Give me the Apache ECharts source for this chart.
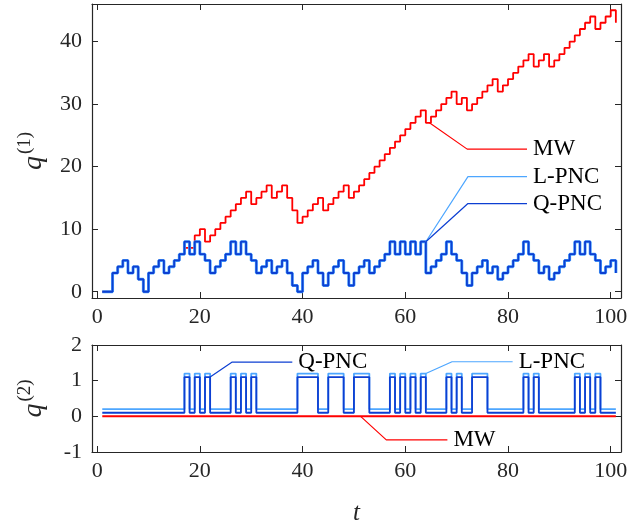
<!DOCTYPE html>
<html>
<head>
<meta charset="utf-8">
<script src="https://cdn.jsdelivr.net/npm/echarts@6/dist/echarts.min.js"></script>
<style>
  html, body { margin: 0; padding: 0; background: #ffffff; }
  #chart { width: 644px; height: 527px; }
</style>
</head>
<body>
<div id="chart"></div>
<script>
// time steps 1..101
const tSteps = Array.from({ length: 101 }, (_, i) => i + 1);

// q^(1): MW (red)
const mwQ1 = [
  0, 0, 3, 4, 5, 3, 4, 2, 0, 3,
  4, 5, 3, 4, 5, 6, 7, 7, 9, 10,
  8, 9, 10, 11, 12, 13, 14, 15, 16, 14,
  15, 16, 17, 15, 16, 17, 15, 13, 11, 12,
  13, 14, 15, 13, 14, 15, 16, 17, 15, 16,
  17, 18, 19, 20, 21, 22, 23, 24, 25, 26,
  27, 28, 29, 27, 28, 29, 30, 31, 32, 30,
  31, 29, 30, 31, 32, 33, 34, 32, 33, 34,
  35, 36, 37, 38, 36, 37, 38, 36, 37, 38,
  39, 40, 41, 42, 43, 44, 42, 43, 44, 45,
  43
];

// q^(1): L-PNC and Q-PNC (they overlap in the picture)
const lpncQ1 = [
  0, 0, 3, 4, 5, 3, 4, 2, 0, 3,
  4, 5, 3, 4, 5, 6, 8, 6, 8, 6,
  5, 3, 4, 5, 6, 8, 6, 8, 6, 5,
  3, 4, 5, 3, 4, 5, 3, 1, 0, 3,
  4, 5, 3, 1, 3, 4, 5, 3, 1, 3,
  4, 5, 3, 4, 5, 6, 8, 6, 8, 6,
  8, 6, 8, 3, 4, 5, 6, 8, 6, 5,
  3, 1, 3, 4, 5, 3, 4, 2, 3, 4,
  5, 6, 8, 6, 5, 3, 4, 2, 3, 4,
  5, 6, 8, 6, 8, 6, 5, 3, 4, 5,
  3
];
const qpncQ1 = lpncQ1.slice();

// q^(2): plotted levels as read (L-PNC sits at 0.2/1.2, Q-PNC at 0.1/1.1)
const lpncQ2 = [
  0.2, 0.2, 0.2, 0.2, 0.2, 0.2, 0.2, 0.2, 0.2, 0.2,
  0.2, 0.2, 0.2, 0.2, 0.2, 0.2, 1.2, 0.2, 1.2, 0.2,
  1.2, 0.2, 0.2, 0.2, 0.2, 1.2, 0.2, 1.2, 0.2, 1.2,
  0.2, 0.2, 0.2, 0.2, 0.2, 0.2, 0.2, 0.2, 1.2, 1.2,
  1.2, 1.2, 0.2, 0.2, 1.2, 1.2, 1.2, 0.2, 0.2, 1.2,
  1.2, 1.2, 0.2, 0.2, 0.2, 0.2, 1.2, 0.2, 1.2, 0.2,
  1.2, 0.2, 1.2, 0.2, 0.2, 0.2, 0.2, 1.2, 0.2, 1.2,
  0.2, 0.2, 1.2, 1.2, 1.2, 0.2, 0.2, 0.2, 0.2, 0.2,
  0.2, 0.2, 1.2, 0.2, 1.2, 0.2, 0.2, 0.2, 0.2, 0.2,
  0.2, 0.2, 1.2, 0.2, 1.2, 0.2, 1.2, 0.2, 0.2, 0.2,
  0.2
];
const qpncQ2 = [
  0.1, 0.1, 0.1, 0.1, 0.1, 0.1, 0.1, 0.1, 0.1, 0.1,
  0.1, 0.1, 0.1, 0.1, 0.1, 0.1, 1.1, 0.1, 1.1, 0.1,
  1.1, 0.1, 0.1, 0.1, 0.1, 1.1, 0.1, 1.1, 0.1, 1.1,
  0.1, 0.1, 0.1, 0.1, 0.1, 0.1, 0.1, 0.1, 1.1, 1.1,
  1.1, 1.1, 0.1, 0.1, 1.1, 1.1, 1.1, 0.1, 0.1, 1.1,
  1.1, 1.1, 0.1, 0.1, 0.1, 0.1, 1.1, 0.1, 1.1, 0.1,
  1.1, 0.1, 1.1, 0.1, 0.1, 0.1, 0.1, 1.1, 0.1, 1.1,
  0.1, 0.1, 1.1, 1.1, 1.1, 0.1, 0.1, 0.1, 0.1, 0.1,
  0.1, 0.1, 1.1, 0.1, 1.1, 0.1, 0.1, 0.1, 0.1, 0.1,
  0.1, 0.1, 1.1, 0.1, 1.1, 0.1, 1.1, 0.1, 0.1, 0.1,
  0.1
];
const mwQ2 = [
  0, 0, 0, 0, 0, 0, 0, 0, 0, 0, 0, 0, 0, 0, 0, 0, 0, 0, 0, 0,
  0, 0, 0, 0, 0, 0, 0, 0, 0, 0, 0, 0, 0, 0, 0, 0, 0, 0, 0, 0,
  0, 0, 0, 0, 0, 0, 0, 0, 0, 0, 0, 0, 0, 0, 0, 0, 0, 0, 0, 0,
  0, 0, 0, 0, 0, 0, 0, 0, 0, 0, 0, 0, 0, 0, 0, 0, 0, 0, 0, 0,
  0, 0, 0, 0, 0, 0, 0, 0, 0, 0, 0, 0, 0, 0, 0, 0, 0, 0, 0, 0,
  0
];

// tick labels
const xTicks = [0, 20, 40, 60, 80, 100];
const yTicksTop = [0, 10, 20, 30, 40];
const yTicksBottom = [-1, 0, 1, 2];

// leader lines for the in-plot labels (data coords)
const leaderTopMW = [[64.7, 27], [72.05, 22.8], [83.7, 22.8]];
const leaderTopL = [[64, 8], [72.2, 18.4], [83.7, 18.4]];
const leaderTopQ = [[64, 8], [72.2, 14.1], [83.7, 14.1]];
const leaderBotQ = [[22, 1.1], [26.3, 1.52], [38.0, 1.52]];
const leaderBotL = [[64, 1.2], [69.1, 1.53], [80.9, 1.53]];
const leaderBotMW = [[51.3, 0], [56.3, -0.66], [68.2, -0.66]];

const RED = "#ff0000";
const LIGHT = "#4da6ff";
const DARK = "#0d3fd2";
const AXIS = "#262626";
const FONT = "Liberation Serif";

const chart = echarts.init(document.getElementById("chart"));

function pairs(ys) {
  return tSteps.map((x, i) => [x, ys[i]]);
}

function boxAxis(opts) {
  return Object.assign({
    type: "value",
    splitLine: { show: false },
    axisLine: { show: true, onZero: false, lineStyle: { color: AXIS, width: 1.2 } },
    axisLabel: { show: false },
  }, opts);
}

function ticks(values) {
  return { show: true, inside: true, length: 6, customValues: values, lineStyle: { color: AXIS } };
}

function stairs(name, ys, color, width, xi, yi, z) {
  return {
    name: name,
    type: "line",
    xAxisIndex: xi,
    yAxisIndex: yi,
    step: "end",
    data: pairs(ys),
    showSymbol: false,
    symbol: "none",
    silent: true,
    z: z,
    lineStyle: { color: color, width: width },
  };
}

function leader(text, pts, color, xi, yi) {
  return {
    type: "line",
    xAxisIndex: xi,
    yAxisIndex: yi,
    data: pts,
    symbol: "none",
    silent: true,
    z: 5,
    lineStyle: { color: color, width: 1.2 },
    endLabel: {
      show: true,
      formatter: text,
      color: "#000",
      fontFamily: FONT,
      fontSize: 23,
      distance: 6,
    },
  };
}

const tickLabel = { color: AXIS, fontFamily: FONT, fontSize: 22 };

function qName(idx) {
  return {
    name: "{q|q}{s|(" + idx + ")}",
    nameLocation: "middle",
    nameRotate: 90,
    nameGap: 44,
    nameTextStyle: {
      rich: {
        q: { fontFamily: FONT, fontStyle: "italic", fontSize: 28, color: AXIS, verticalAlign: "bottom", lineHeight: 32, padding: [0, 2, 0, 0] },
        s: { fontFamily: FONT, fontSize: 19, color: AXIS, verticalAlign: "top", lineHeight: 32 },
      },
    },
  };
}

chart.setOption({
  animation: false,
  backgroundColor: "#ffffff",
  grid: [
    { left: 92, right: 23, top: 4, height: 294 },
    { left: 92, right: 23, top: 345, height: 112 },
  ],
  xAxis: [
    boxAxis({
      gridIndex: 0, min: -1, max: 102, position: "bottom",
      axisTick: ticks(xTicks),
      axisLabel: Object.assign({ show: true, customValues: xTicks, margin: 8 }, tickLabel),
    }),
    boxAxis({ gridIndex: 0, min: -1, max: 102, position: "top", axisTick: ticks(xTicks) }),
    boxAxis({
      gridIndex: 1, min: -1, max: 102, position: "bottom",
      axisTick: ticks(xTicks),
      axisLabel: Object.assign({ show: true, customValues: xTicks, margin: 8 }, tickLabel),
      name: "t",
      nameLocation: "middle",
      nameGap: 49,
      nameTextStyle: { color: AXIS, fontFamily: FONT, fontStyle: "italic", fontSize: 25 },
    }),
    boxAxis({ gridIndex: 1, min: -1, max: 102, position: "top", axisTick: ticks(xTicks) }),
  ],
  yAxis: [
    boxAxis(Object.assign({
      gridIndex: 0, min: -1, max: 46, position: "left",
      axisTick: ticks(yTicksTop),
      axisLabel: Object.assign({ show: true, customValues: yTicksTop, margin: 10 }, tickLabel),
    }, qName(1))),
    boxAxis({ gridIndex: 0, min: -1, max: 46, position: "right", axisTick: ticks(yTicksTop) }),
    boxAxis(Object.assign({
      gridIndex: 1, min: -1, max: 2, position: "left",
      axisTick: ticks(yTicksBottom),
      axisLabel: Object.assign({ show: true, customValues: yTicksBottom, margin: 10 }, tickLabel),
    }, qName(2))),
    boxAxis({ gridIndex: 1, min: -1, max: 2, position: "right", axisTick: ticks(yTicksBottom) }),
  ],
  series: [
    stairs("MW", mwQ1, RED, 1.8, 0, 0, 2),
    stairs("L-PNC", lpncQ1, LIGHT, 3, 0, 0, 3),
    stairs("Q-PNC", qpncQ1, DARK, 1.8, 0, 0, 4),
    leader("MW", leaderTopMW, RED, 0, 0),
    leader("L-PNC", leaderTopL, LIGHT, 0, 0),
    leader("Q-PNC", leaderTopQ, DARK, 0, 0),

    stairs("MW", mwQ2, RED, 2, 2, 2, 2),
    stairs("L-PNC", lpncQ2, LIGHT, 1.8, 2, 2, 3),
    stairs("Q-PNC", qpncQ2, DARK, 1.8, 2, 2, 4),
    leader("Q-PNC", leaderBotQ, DARK, 2, 2),
    leader("L-PNC", leaderBotL, LIGHT, 2, 2),
    leader("MW", leaderBotMW, RED, 2, 2),
  ],
});
</script>
</body>
</html>
